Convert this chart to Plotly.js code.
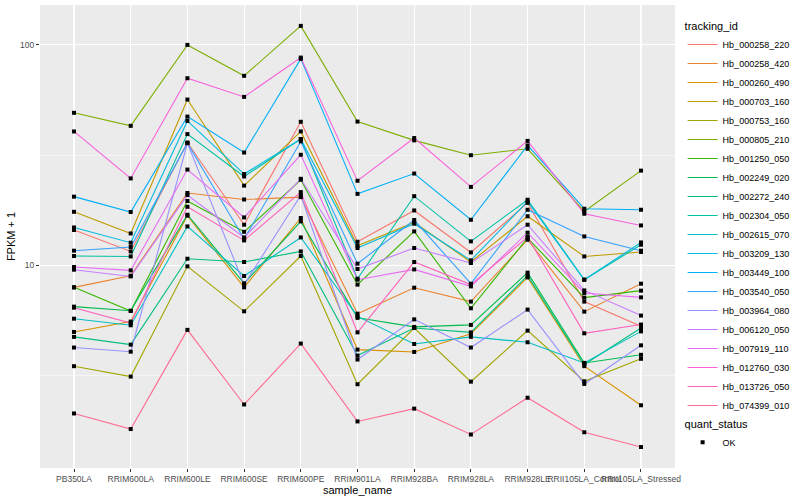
<!DOCTYPE html>
<html>
<head>
<meta charset="utf-8">
<script src="https://cdn.plot.ly/plotly-3.0.1.min.js"></script>
<style>
html,body{margin:0;padding:0;background:#fff;}
#chart{width:800px;height:500px;}
</style>
</head>
<body>
<div id="chart"></div>
<script>
const categories = ["PB350LA","RRIM600LA","RRIM600LE","RRIM600SE","RRIM600PE","RRIM901LA","RRIM928BA","RRIM928LA","RRIM928LE","RRII105LA_Control","RRII105LA_Stressed"];

const trackingIds = ["Hb_000258_220","Hb_000258_420","Hb_000260_490","Hb_000703_160","Hb_000753_160","Hb_000805_210","Hb_001250_050","Hb_002249_020","Hb_002272_240","Hb_002304_050","Hb_002615_070","Hb_003209_130","Hb_003449_100","Hb_003540_050","Hb_003964_080","Hb_006120_050","Hb_007919_110","Hb_012760_030","Hb_013726_050","Hb_074399_010"];

const seriesColors = ["#F8766D","#EA8331","#D89000","#C09B00","#A3A500","#7CAE00","#39B600","#00BB4E","#00BF7D","#00C1A3","#00BFC4","#00BAE0","#00B0F6","#35A2FF","#9590FF","#C77CFF","#E76BF3","#FA62DB","#FF62BC","#FF6C91"];

// FPKM + 1 per sample, in category order
const hb_000258_220 = [14.47, 11.57, 36.1, 15.29, 44.8, 12.8, 17.75, 11.45, 19.2, 6.85, 5.29];
const hb_000258_420 = [7.95, 8.98, 21.3, 19.9, 20.4, 6.04, 7.92, 6.85, 13.07, 6.17, 8.26];
const hb_000260_490 = [4.99, 5.56, 16.8, 7.95, 16.4, 4.15, 4.05, 4.89, 8.82, 3.49, 2.32];
const hb_000703_160 = [17.5, 13.96, 56.5, 23.0, 40.5, 12.28, 15.66, 10.36, 16.7, 10.98, 11.5];
const hb_000753_160 = [3.49, 3.13, 9.9, 6.19, 11.03, 2.89, 5.2, 2.97, 5.06, 2.98, 3.77];
const hb_000805_210 = [49.2, 42.95, 100, 72.4, 122, 44.9, 36.9, 31.6, 33.8, 17.57, 26.9];
const hb_001250_050 = [7.95, 6.21, 19.6, 14.2, 24.45, 8.18, 14.26, 6.39, 13.31, 7.14, 7.68];
const hb_002249_020 = [6.5, 6.23, 16.97, 8.29, 15.83, 5.78, 5.26, 5.37, 9.27, 3.61, 3.93];
const hb_002272_240 = [4.74, 4.37, 10.72, 10.36, 11.57, 3.9, 5.2, 4.97, 8.98, 3.55, 5.2];
const hb_002304_050 = [11.03, 10.98, 39.4, 25.3, 37.4, 8.7, 20.6, 12.85, 19.85, 8.61, 12.41];
const hb_002615_070 = [5.73, 5.35, 15.02, 8.95, 13.39, 5.87, 4.4, 4.74, 4.48, 3.61, 5.02];
const hb_003209_130 = [14.86, 12.67, 45.2, 25.95, 37.4, 11.99, 15.45, 10.54, 19.5, 8.61, 12.71];
const hb_003449_100 = [20.5, 17.46, 47.3, 32.5, 86.4, 21.1, 26.1, 16.1, 35.0, 18.07, 17.88];
const hb_003540_050 = [11.66, 12.12, 35.85, 13.17, 36.5, 10.18, 16.06, 8.26, 17.88, 13.53, 11.66];
const hb_003964_080 = [4.24, 4.06, 35.85, 8.18, 20.8, 3.74, 5.69, 4.24, 6.3, 2.9, 4.34];
const hb_006120_050 = [9.56, 8.91, 20.84, 13.39, 24.7, 9.63, 11.99, 10.25, 15.29, 7.7, 5.92];
const hb_007919_110 = [9.83, 9.49, 27.2, 16.5, 31.75, 8.61, 9.59, 8.03, 14.07, 7.5, 7.16];
const hb_012760_030 = [40.5, 24.8, 70.6, 58.1, 87.6, 24.2, 37.8, 22.7, 36.7, 17.15, 15.18];
const hb_013726_050 = [6.43, 5.48, 18.45, 12.98, 21.5, 4.97, 10.36, 8.18, 13.45, 4.92, 5.39];
const hb_074399_010 = [2.13, 1.81, 5.1, 2.34, 4.42, 1.96, 2.24, 1.71, 2.51, 1.75, 1.5];

const seriesValues = [hb_000258_220, hb_000258_420, hb_000260_490, hb_000703_160, hb_000753_160, hb_000805_210, hb_001250_050, hb_002249_020, hb_002272_240, hb_002304_050, hb_002615_070, hb_003209_130, hb_003449_100, hb_003540_050, hb_003964_080, hb_006120_050, hb_007919_110, hb_012760_030, hb_013726_050, hb_074399_010];

const quantStatus = ["OK"];

const FONT = "Liberation Sans, Arial, Helvetica, sans-serif";

const traces = [];
seriesValues.forEach((vals, i) => {
  traces.push({
    type: "scatter",
    mode: "lines",
    x: categories,
    y: vals,
    name: trackingIds[i],
    line: {color: seriesColors[i], width: 1.1},
    legend: "legend",
    hoverinfo: "skip"
  });
});

const allX = [], allY = [];
seriesValues.forEach(vals => { vals.forEach((v, j) => { allX.push(categories[j]); allY.push(v); }); });
traces.push({
  type: "scatter",
  mode: "markers",
  x: allX,
  y: allY,
  name: quantStatus[0],
  marker: {color: "#000000", size: 4, symbol: "square"},
  legend: "legend2",
  hoverinfo: "skip"
});

const layout = {
  width: 800,
  height: 500,
  margin: {l: 40, r: 116, t: 5, b: 32},
  paper_bgcolor: "#FFFFFF",
  plot_bgcolor: "#EBEBEB",
  font: {family: FONT, color: "#000000", size: 9},
  showlegend: true,
  xaxis: {
    type: "category",
    categoryorder: "array",
    categoryarray: categories,
    range: [-0.6, 10.6],
    showgrid: true,
    gridcolor: "#FFFFFF",
    gridwidth: 1.1,
    zeroline: false,
    showline: false,
    ticks: "outside",
    ticklen: 3,
    tickcolor: "#333333",
    tickwidth: 1,
    tickfont: {family: FONT, size: 8.5, color: "#4D4D4D"},
    tickangle: 0,
    title: {text: "sample_name", font: {family: FONT, size: 11, color: "#000000"}, standoff: 1},
    automargin: false,
    fixedrange: true
  },
  yaxis: {
    type: "log",
    range: [0.081, 2.181],
    tickmode: "array",
    tickvals: [10, 100],
    ticktext: ["10", "100"],
    showgrid: true,
    gridcolor: "#FFFFFF",
    gridwidth: 1.1,
    minor: {tickmode: "array", tickvals: [3.1623, 31.623], showgrid: true, gridcolor: "#FFFFFF", gridwidth: 0.5, ticks: ""},
    zeroline: false,
    showline: false,
    ticks: "outside",
    ticklen: 3,
    tickcolor: "#333333",
    tickwidth: 1,
    tickfont: {family: FONT, size: 8.5, color: "#4D4D4D"},
    title: {text: "FPKM + 1", font: {family: FONT, size: 11, color: "#000000"}, standoff: 2},
    automargin: false,
    fixedrange: true
  },
  legend: {
    title: {text: "tracking_id", font: {family: FONT, size: 11, color: "#000000"}},
    x: 1.012, xanchor: "left",
    y: 0.977, yanchor: "top",
    font: {family: FONT, size: 9, color: "#000000"},
    bgcolor: "rgba(0,0,0,0)",
    itemwidth: 30,
    tracegroupgap: 0
  },
  legend2: {
    title: {text: "quant_status", font: {family: FONT, size: 11, color: "#000000"}},
    x: 1.012, xanchor: "left",
    y: 0.118, yanchor: "top",
    font: {family: FONT, size: 9, color: "#000000"},
    bgcolor: "rgba(0,0,0,0)",
    itemwidth: 30
  }
};

Plotly.newPlot("chart", traces, layout, {displayModeBar: false, staticPlot: true});
</script>
</body>
</html>
